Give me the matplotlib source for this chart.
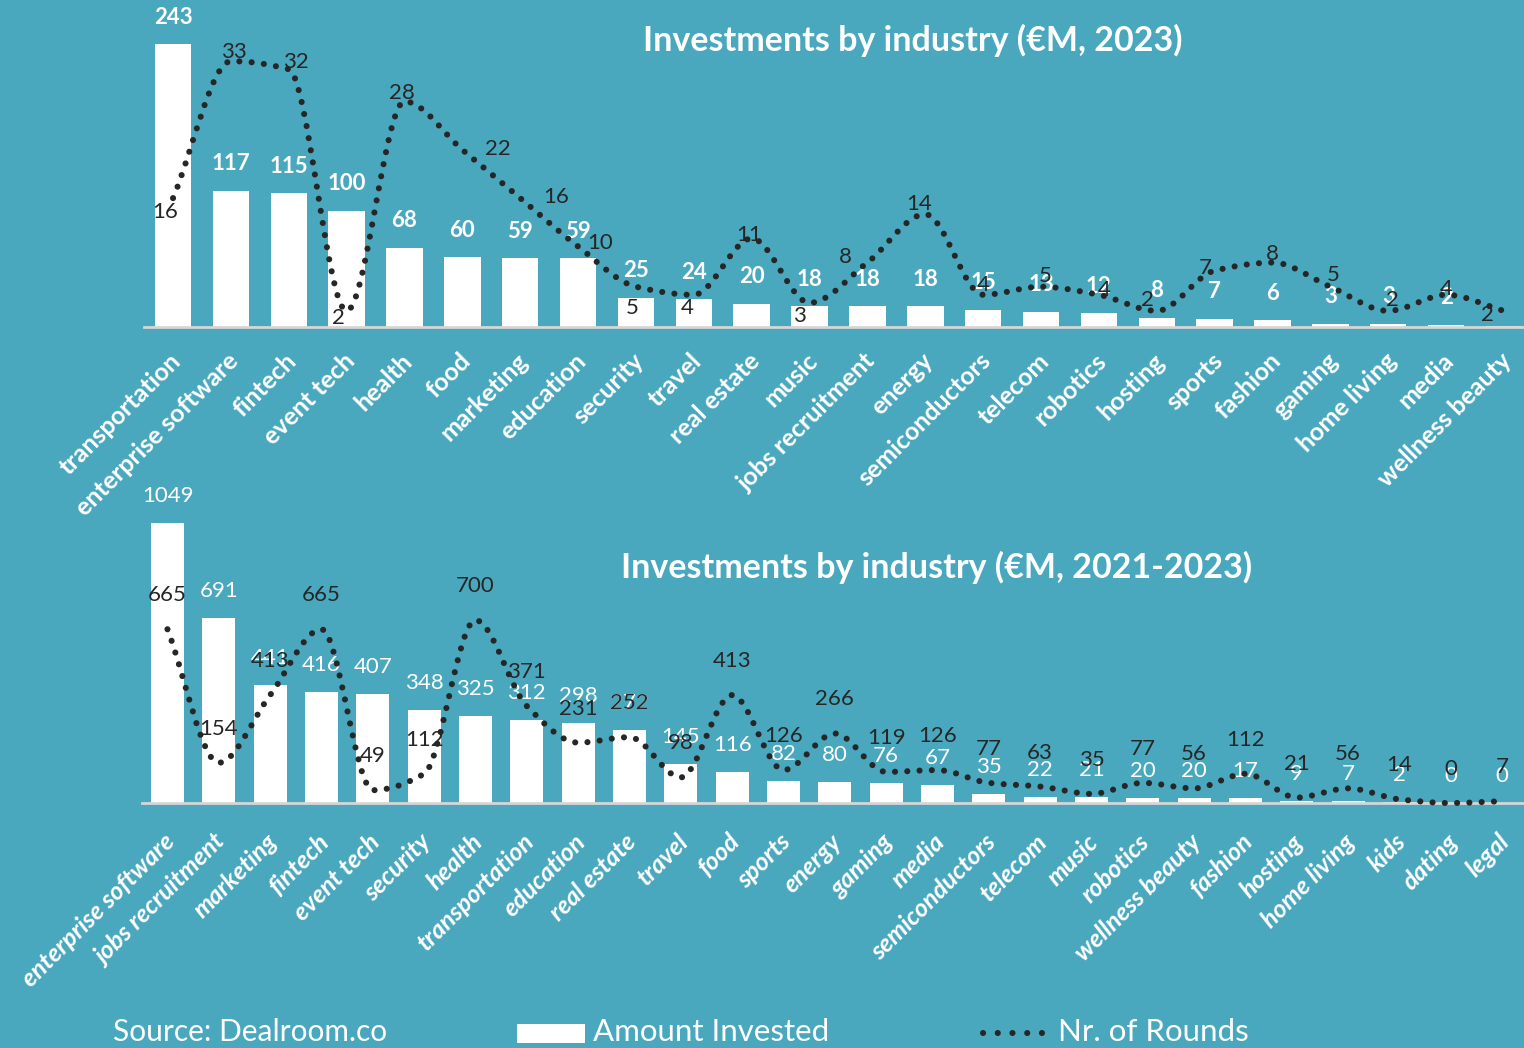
import numpy as np
import matplotlib
matplotlib.use("Agg")
import matplotlib.pyplot as plt
from matplotlib.path import Path
from matplotlib.patches import PathPatch, Rectangle
from matplotlib.lines import Line2D
from matplotlib.transforms import ScaledTranslation

# ---------------- data ----------------
cats_2023 = ["transportation", "enterprise software", "fintech", "event tech", "health",
             "food", "marketing", "education", "security", "travel", "real estate", "music",
             "jobs recruitment", "energy", "semiconductors", "telecom", "robotics", "hosting",
             "sports", "fashion", "gaming", "home living", "media", "wellness beauty"]
amount_2023 = [243, 117, 115, 100, 68, 60, 59, 59, 25, 24, 20, 18, 18, 18, 15, 13, 12, 8,
               7, 6, 3, 3, 2, 1]
rounds_2023 = [16, 33, 32, 2, 28, 22, 16, 10, 5, 4, 11, 3, 8, 14, 4, 5, 4, 2, 7, 8, 5, 2, 4, 2]

cats_all = ["enterprise software", "jobs recruitment", "marketing", "fintech", "event tech",
            "security", "health", "transportation", "education", "real estate", "travel",
            "food", "sports", "energy", "gaming", "media", "semiconductors", "telecom",
            "music", "robotics", "wellness beauty", "fashion", "hosting", "home living",
            "kids", "dating", "legal"]
amount_all = [1049, 691, 441, 416, 407, 348, 325, 312, 298, 272, 145, 116, 82, 80, 76, 67,
              35, 22, 21, 20, 20, 17, 9, 7, 2, 0, 0]
rounds_all = [665, 154, 413, 665, 49, 112, 700, 371, 231, 252, 98, 413, 126, 266, 119, 126,
              77, 63, 35, 77, 56, 112, 21, 56, 14, 0, 7]

title_2023 = "Investments by industry (€M, 2023)"
title_all = "Investments by industry (€M, 2021-2023)"

# ---------------- style ----------------
BG = "#4AA8BE"
DARK = "#262626"
W, H = 1524, 1048
plt.rcParams["font.family"] = ["Lato", "DejaVu Sans"]

# label offsets (pixels) for round labels in top chart
top_round_offsets = [(-8, -14), (3, 9), (7, 7), (-8, -7), (-3, 8), (36, 1), (36, 1), (22, 3),
                     (-4, -21), (-7, -13), (-3, 3), (-10, -13), (-22, 6), (-6, 10), (0, 10),
                     (4, 11), (5, 5), (-9, 11), (-9, 3), (0, 9), (3, 12), (4, 11), (0, 6),
                     (-17, -4)]

fig = plt.figure(figsize=(W / 100, H / 100), dpi=100, facecolor=BG)


def fx(px):
    return px / W


def fy(py):
    return 1 - py / H


def smooth_path(xs, ys):
    """Monotone cubic (Fritsch-Carlson style) path through the data points."""
    xs = np.asarray(xs, float)
    ys = np.asarray(ys, float)
    n = len(xs)
    h = np.diff(xs)
    d = np.diff(ys) / h
    m = np.zeros(n)
    m[0] = d[0]
    m[-1] = d[-1]
    for k in range(1, n - 1):
        if d[k - 1] * d[k] <= 0:
            m[k] = 0.0
        else:
            m[k] = 2.0 / (1.0 / d[k - 1] + 1.0 / d[k])
    verts = [(xs[0], ys[0])]
    codes = [Path.MOVETO]
    for k in range(n - 1):
        c1 = (xs[k] + h[k] / 3, ys[k] + m[k] * h[k] / 3)
        c2 = (xs[k + 1] - h[k] / 3, ys[k + 1] - m[k + 1] * h[k] / 3)
        verts += [c1, c2, (xs[k + 1], ys[k + 1])]
        codes += [Path.CURVE4] * 3
    return Path(verts, codes)


def panel(rect, cats, amounts, rounds, ymax, ymax2, barw, bar_bold, tick_style,
          tick_dx, tick_dy, tick_fs, round_offsets=None, round_dy=34, skip_label=None):
    ax = fig.add_axes(rect)
    ax.set_facecolor("none")
    x = np.arange(len(cats))
    ax.bar(x, amounts, width=barw, color="white", zorder=2)
    ax.set_xlim(-0.5, len(cats) - 0.5)
    ax.set_ylim(0, ymax)
    for s in ["top", "right", "left"]:
        ax.spines[s].set_visible(False)
    ax.spines["bottom"].set_color("#D6D6D6")
    ax.spines["bottom"].set_linewidth(2.0)
    ax.spines["bottom"].set_zorder(3)
    ax.set_yticks([])
    ax.set_xticks(x)
    ax.set_xticklabels(cats, rotation=45, ha="right", rotation_mode="anchor",
                       color="white", fontsize=tick_fs, fontweight="bold",
                       fontstyle=tick_style)
    ax.tick_params(axis="x", length=0, pad=0)
    off = ScaledTranslation(tick_dx / 100, -tick_dy / 100, fig.dpi_scale_trans)
    for lab in ax.get_xticklabels():
        lab.set_transform(lab.get_transform() + off)
    for xi, v, c in zip(x, amounts, cats):
        if skip_label is not None and c == skip_label:
            continue
        ax.annotate(str(v), (xi, v), xytext=(0, 27), textcoords="offset pixels",
                    ha="center", va="center", color="white", fontsize=16,
                    fontweight="bold" if bar_bold else "normal", zorder=4)

    ax2 = ax.twinx()
    ax2.set_facecolor("none")
    ax2.set_ylim(0, ymax2)
    ax2.set_yticks([])
    for s in ax2.spines.values():
        s.set_visible(False)
    path = smooth_path(x, rounds)
    patch = PathPatch(path, fill=False, edgecolor=DARK, linewidth=4.4,
                      linestyle=(0, (0.01, 2.0)), capstyle="round", clip_on=False, zorder=5)
    ax2.add_patch(patch)
    for i, (xi, r) in enumerate(zip(x, rounds)):
        if round_offsets is not None:
            dx, dy = round_offsets[i]
        else:
            dx, dy = 0, round_dy
        ax2.annotate(str(r), (xi, r), xytext=(dx, dy), textcoords="offset pixels",
                     ha="center", va="center", color=DARK, fontsize=16, zorder=6)
    return ax, ax2


# top panel: baseline y=327, x centers 173..1504
top_left = 144.1
top_right = 1532.9
panel([fx(top_left), fy(327), fx(top_right) - fx(top_left), 327 / H],
      cats_2023, amount_2023, rounds_2023, ymax=280.8, ymax2=40.6, barw=0.63,
      bar_bold=True, tick_style="normal", tick_dx=-4, tick_dy=22, tick_fs=18,
      round_offsets=top_round_offsets, skip_label="wellness beauty")

# bottom panel: baseline y=803, top y=480
bl, br = 141.8, 1527.8
panel([fx(bl), fy(803), fx(br) - fx(bl), (803 - 480) / H],
      cats_all, amount_all, rounds_all, ymax=1209, ymax2=1236, barw=0.64,
      bar_bold=False, tick_style="italic", tick_dx=-5, tick_dy=27, tick_fs=18,
      round_dy=34)

fig.text(fx(913), fy(40), title_2023, ha="center", va="center", color="white",
         fontsize=24.5, fontweight="bold")
fig.text(fx(937), fy(567), title_all, ha="center", va="center", color="white",
         fontsize=24.5, fontweight="bold")

# legend / footer
fig.text(fx(113), fy(1032), "Source: Dealroom.co", ha="left", va="center",
         color="white", fontsize=21.5)
fig.patches.append(Rectangle((fx(517), fy(1043)), fx(585) - fx(517), fy(1024) - fy(1043),
                             transform=fig.transFigure, facecolor="white", edgecolor="none"))
fig.text(fx(593), fy(1032), "Amount Invested", ha="left", va="center",
         color="white", fontsize=22.5)
fig.lines.append(Line2D([fx(983), fx(1050)], [fy(1033), fy(1033)], transform=fig.transFigure,
                        color=DARK, linewidth=4.4, linestyle=(0, (0.01, 2.4)),
                        dash_capstyle="round"))
fig.text(fx(1058), fy(1032), "Nr. of Rounds", ha="left", va="center",
         color="white", fontsize=22.5)

fig.savefig("out.png", dpi=100, facecolor=BG)
